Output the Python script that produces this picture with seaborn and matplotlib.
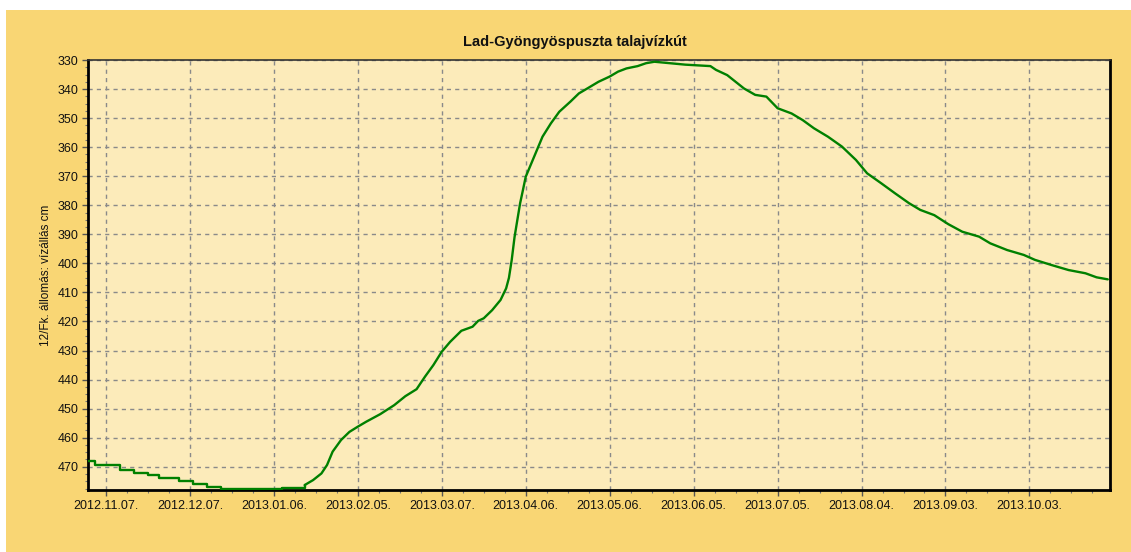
import numpy as np
import pandas as pd
import matplotlib
matplotlib.use('Agg')
import matplotlib.pyplot as plt
import matplotlib.dates as mdates
from matplotlib.patches import Rectangle
from matplotlib.ticker import MultipleLocator
import seaborn as sns

# ========== 数据 ==========
dates = [
    '2012-10-31', '2012-11-03', '2012-11-12', '2012-11-17', '2012-11-22', '2012-11-26',
    '2012-12-03', '2012-12-08', '2012-12-13', '2012-12-18', '2013-01-09', '2013-01-17',
    '2013-01-20', '2013-01-23', '2013-01-25', '2013-01-27', '2013-01-30', '2013-02-02',
    '2013-02-05', '2013-02-08', '2013-02-13', '2013-02-18', '2013-02-22', '2013-02-26',
    '2013-03-01', '2013-03-04', '2013-03-07', '2013-03-10', '2013-03-14', '2013-03-18',
    '2013-03-20', '2013-03-22', '2013-03-25', '2013-03-28', '2013-03-30', '2013-03-31',
    '2013-04-01', '2013-04-02', '2013-04-03', '2013-04-04', '2013-04-05', '2013-04-06',
    '2013-04-08', '2013-04-10', '2013-04-12', '2013-04-15', '2013-04-18', '2013-04-22',
    '2013-04-25', '2013-04-28', '2013-05-02', '2013-05-06', '2013-05-09', '2013-05-12',
    '2013-05-16', '2013-05-19', '2013-05-22', '2013-06-02', '2013-06-11', '2013-06-13',
    '2013-06-17', '2013-06-20', '2013-06-23', '2013-06-27', '2013-07-01', '2013-07-05',
    '2013-07-10', '2013-07-14', '2013-07-18', '2013-07-23', '2013-07-28', '2013-08-02',
    '2013-08-06', '2013-08-11', '2013-08-16', '2013-08-21', '2013-08-25', '2013-08-30',
    '2013-09-04', '2013-09-09', '2013-09-15', '2013-09-19', '2013-09-25', '2013-10-01',
    '2013-10-05', '2013-10-11', '2013-10-17', '2013-10-23', '2013-10-27', '2013-10-31',
]
levels = [
    467.9, 469.5, 471.1, 472.1, 473.0, 473.9,
    475.0, 475.9, 477.1, 477.8, 477.2, 476.3,
    474.6, 472.3, 469.4, 464.8, 460.8, 458.0,
    456.2, 454.5, 451.9, 448.8, 445.7, 443.3,
    439.0, 435.0, 430.4, 427.0, 423.2, 421.8,
    419.8, 418.9, 416.1, 412.6, 408.6, 405.0,
    398.8, 391.0, 385.1, 379.3, 374.8, 370.2,
    365.6, 361.0, 356.4, 351.8, 347.8, 344.3,
    341.5, 339.8, 337.5, 335.7, 334.0, 332.9,
    332.1, 331.1, 330.6, 331.6, 332.1, 333.4,
    335.2, 337.5, 339.8, 342.0, 342.6, 346.6,
    348.4, 350.7, 353.5, 356.4, 359.8, 364.4,
    369.0, 372.4, 375.9, 379.3, 381.6, 383.4,
    386.5, 389.1, 390.8, 393.1, 395.4, 397.1,
    398.8, 400.6, 402.3, 403.4, 404.8, 405.5,
]

title = 'Lad-Gyöngyöspuszta talajvízkút'
ylabel = '12/Fk. állomás: vízállás cm'
yticks = list(range(330, 471, 10))
# 前段为明显的阶梯，之后为平滑的曲线
step_end = '2013-01-17'

df = pd.DataFrame({'datum': pd.to_datetime(dates), 'vizallas': levels})
df_step = df[df['datum'] <= step_end]
df_line = df[df['datum'] >= step_end]

# ========== 绘图 ==========
sns.set_style('ticks')
plt.rcParams['font.family'] = ['Liberation Sans', 'DejaVu Sans']

outer = '#F9D674'
inner = '#FCEBBA'
green = '#008000'

fig = plt.figure(figsize=(11.31, 5.52), dpi=100)
fig.patch.set_facecolor('white')
fig.add_artist(Rectangle((6 / 1131, 0), 1 - 6 / 1131, 542 / 552,
                         transform=fig.transFigure, facecolor=outer,
                         edgecolor='none', zorder=0))

ax = fig.add_axes([88 / 1131, 62 / 552, 1022 / 1131, 430 / 552])
ax.set_facecolor(inner)

sns.lineplot(data=df_step, x='datum', y='vizallas', ax=ax, color=green,
             linewidth=1.7, drawstyle='steps-post', zorder=3)
sns.lineplot(data=df_line, x='datum', y='vizallas', ax=ax, color=green,
             linewidth=1.7, zorder=3)

ax.set_xlim(pd.Timestamp('2012-10-31 14:00'), pd.Timestamp('2013-10-31 19:00'))
ax.set_ylim(478, 330)

major = pd.date_range('2012-11-07', periods=12, freq='30D')
minor = pd.date_range('2012-11-07', '2013-11-01', freq='180h')
ax.set_xticks(major)
ax.set_xticks(minor, minor=True)
ax.xaxis.set_major_formatter(mdates.DateFormatter('%Y.%m.%d.'))
ax.set_yticks(yticks)
ax.yaxis.set_minor_locator(MultipleLocator(2.5))

ax.tick_params(axis='both', which='major', direction='out', length=4,
               width=1, color='#555555', labelsize=9, labelcolor='#111111', pad=3)
ax.tick_params(axis='both', which='minor', direction='out', length=2.5,
               width=0.8, color='#777777')

ax.grid(True, which='major', color='#8a8a8a', linestyle=(0, (3, 3)), linewidth=1)
ax.set_axisbelow(True)

for side in ['left', 'bottom', 'right']:
    ax.spines[side].set_linewidth(2)
    ax.spines[side].set_color('black')
ax.spines['top'].set_linewidth(1.2)
ax.spines['top'].set_color('#333333')

ax.set_xlabel('')
ax.set_ylabel(ylabel, fontsize=8.5, color='#111111', labelpad=4)

fig.text(575 / 1131, (552 - 42) / 552, title, ha='center', va='center',
         fontsize=10.5, fontweight='bold', color='#111111')

plt.savefig('out.png', dpi=100, facecolor=fig.get_facecolor())
